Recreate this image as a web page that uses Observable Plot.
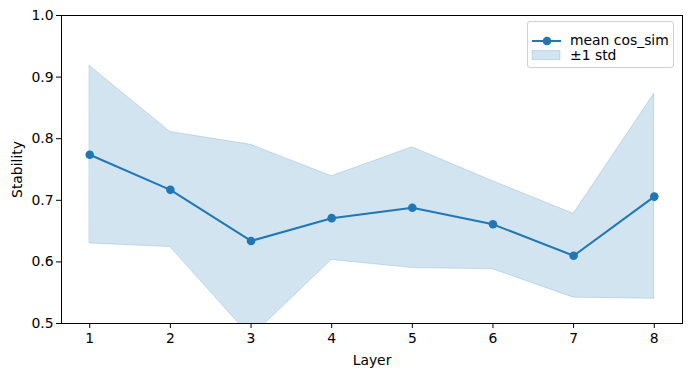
<!DOCTYPE html>
<html>
<head>
<meta charset="utf-8">
<script src="https://cdn.jsdelivr.net/npm/d3@7"></script>
<script src="https://cdn.jsdelivr.net/npm/@observablehq/plot@0.6"></script>
<style>
  html, body { margin: 0; padding: 0; background: #fff; }
  #wrap { position: relative; width: 691px; height: 376px; font-family: "DejaVu Sans", sans-serif; }
  #legend { position: absolute; left: 527px; top: 21px; width: 147px; height: 47px;
    border: 1px solid #d0d0d0; border-radius: 3px; background: rgba(255,255,255,0.8);
    font-size: 13.9px; color: #000; box-sizing: border-box; }
  .row { position: absolute; left: 0; height: 18px; display: flex; align-items: center; }
  .row span { position: absolute; left: 42px; white-space: nowrap; }
</style>
</head>
<body>
<div id="wrap">
  <div id="chart"></div>
  <div id="legend">
    <div class="row" style="top:10px;">
      <svg width="40" height="18" style="position:absolute;left:3px;top:0">
        <line x1="1" y1="9" x2="30" y2="9" stroke="#1f77b4" stroke-width="2"/>
        <circle cx="16" cy="9" r="4.3" fill="#1f77b4"/>
      </svg>
      <span style="top:0px">mean cos_sim</span>
    </div>
    <div class="row" style="top:25px;">
      <svg width="40" height="18" style="position:absolute;left:3px;top:0">
        <rect x="1" y="3.5" width="28" height="9" fill="#1f77b4" fill-opacity="0.2" stroke="#1f77b4" stroke-opacity="0.2"/>
      </svg>
      <span style="top:0px">±1 std</span>
    </div>
  </div>
</div>
<script>
const layers = [1, 2, 3, 4, 5, 6, 7, 8];
const meanCos = [0.774, 0.717, 0.634, 0.671, 0.688, 0.661, 0.610, 0.706];
const upperStd = [0.918, 0.811, 0.790, 0.739, 0.786, 0.731, 0.678, 0.873];
const lowerStd = [0.630, 0.624, 0.478, 0.603, 0.590, 0.588, 0.542, 0.540];
const yTicks = [0.5, 0.6, 0.7, 0.8, 0.9, 1.0];

const data = layers.map((l, i) => ({layer: l, mean: meanCos[i], lo: lowerStd[i], hi: upperStd[i]}));
const blue = "#1f77b4";

const chart = Plot.plot({
  width: 691,
  height: 376,
  marginLeft: 61,
  marginRight: 9,
  marginTop: 15,
  marginBottom: 53,
  style: {fontFamily: "DejaVu Sans, sans-serif", fontSize: "13.9px", color: "#000", background: "#fff"},
  x: {domain: [0.65, 8.35]},
  y: {domain: [0.5, 1.0]},
  marks: [
    Plot.areaY(data, {x: "layer", y1: "lo", y2: "hi", fill: blue, fillOpacity: 0.2, stroke: blue, strokeOpacity: 0.2, strokeWidth: 1, clip: true}),
    Plot.lineY(data, {x: "layer", y: "mean", stroke: blue, strokeWidth: 2}),
    Plot.dot(data, {x: "layer", y: "mean", r: 4.3, fill: blue}),
    Plot.frame({stroke: "#000", strokeWidth: 1}),
    Plot.axisX(layers, {tickSize: 5, tickPadding: 5, label: "Layer", labelAnchor: "center", labelArrow: "none", labelOffset: 41, stroke: "#000"}),
    Plot.axisY(yTicks, {tickSize: 5, tickPadding: 3, tickFormat: d => d.toFixed(1), label: "Stability", labelAnchor: "center", labelArrow: "none", labelOffset: 49, stroke: "#000"})
  ]
});
document.getElementById("chart").appendChild(chart);
</script>
</body>
</html>
